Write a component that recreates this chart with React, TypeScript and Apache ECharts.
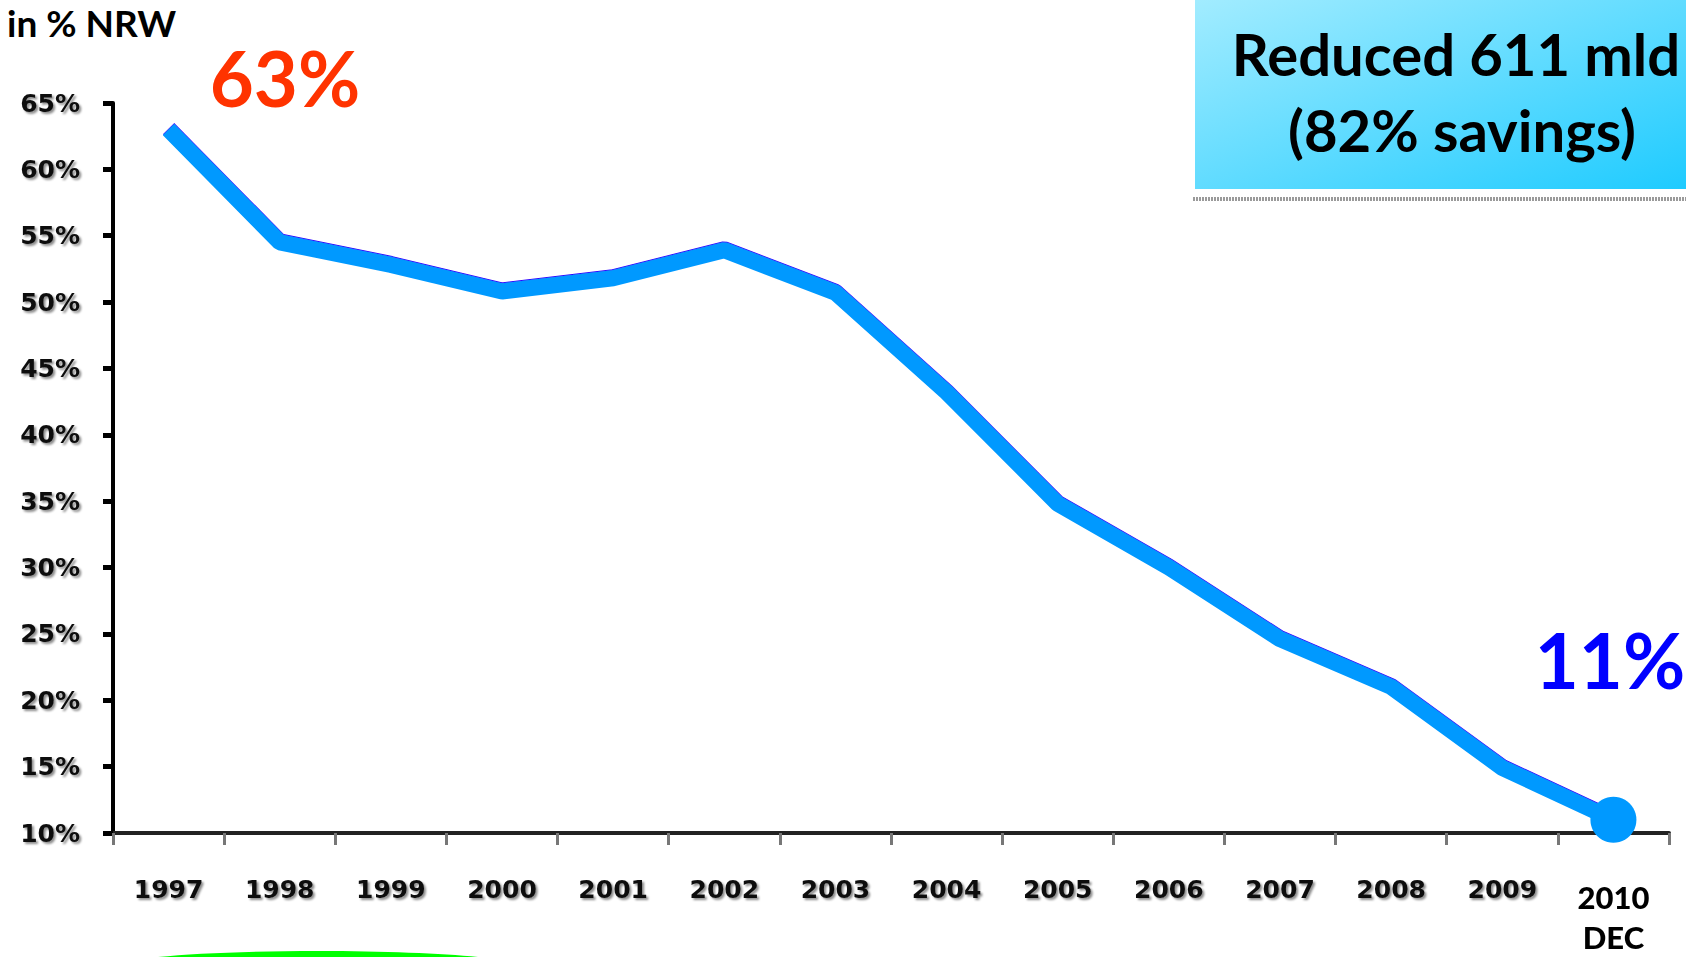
import React, { useEffect, useRef } from "react";
import * as echarts from "echarts";

// Non-revenue water, share of supply (%) per year
const years = [
  "1997", "1998", "1999", "2000", "2001", "2002", "2003",
  "2004", "2005", "2006", "2007", "2008", "2009", "2010",
];
const nrwPercent = [63, 54.5, 52.8, 50.8, 51.8, 53.9, 50.7, 43.2, 34.8, 30, 24.6, 21, 14.9, 11];
const lastYearSuffix = "DEC";

// y axis range (percent)
const yMin = 10;
const yMax = 65;
const yStep = 5;

const yAxisTitle = "in % NRW";
const savingsLines = ["Reduced 611 mld", "(82% savings)"];

const W = 1686;
const H = 957;

const labelShadow = {
  textShadowColor: "rgba(0,0,0,0.45)",
  textShadowBlur: 2,
  textShadowOffsetX: 2,
  textShadowOffsetY: 2,
};

export default function App() {
  const ref = useRef<HTMLDivElement>(null);

  useEffect(() => {
    if (!ref.current) return;
    const chart = echarts.init(ref.current, undefined, { renderer: "svg" });
    const last = nrwPercent.length - 1;

    chart.setOption({
      animation: false,
      backgroundColor: "#ffffff",
      grid: { left: 113, right: 17, top: 103, bottom: 124, containLabel: false },
      xAxis: {
        type: "category",
        data: years,
        boundaryGap: true,
        axisLine: { lineStyle: { color: "#222", width: 4 } },
        axisTick: {
          show: true,
          length: 12,
          interval: 0,
          lineStyle: { color: "#777", width: 3 },
        },
        axisLabel: {
          interval: 0,
          margin: 44,
          color: "#111",
          fontFamily: "DejaVu Sans",
          fontWeight: "bold",
          fontSize: 25,
          ...labelShadow,
          formatter: (value: string, index: number) =>
            index === last ? `{dec|${value}}\n{dec|${lastYearSuffix}}` : value,
          rich: {
            dec: {
              fontFamily: "Lato",
              fontWeight: 900,
              fontSize: 31,
              lineHeight: 40,
              color: "#000",
              textShadowColor: "rgba(0,0,0,0)",
              textShadowBlur: 0,
              textShadowOffsetX: 0,
              textShadowOffsetY: 0,
              align: "center",
            },
          },
        },
        splitLine: { show: false },
      },
      yAxis: {
        type: "value",
        min: yMin,
        max: yMax,
        interval: yStep,
        axisLine: { show: true, lineStyle: { color: "#000", width: 4 } },
        axisTick: { show: true, length: 10, lineStyle: { color: "#000", width: 5 } },
        axisLabel: {
          margin: 33,
          color: "#111",
          fontFamily: "DejaVu Sans",
          fontWeight: "bold",
          fontSize: 25,
          ...labelShadow,
          formatter: "{value}%",
        },
        splitLine: { show: false },
      },
      series: [
        {
          type: "line",
          data: nrwPercent.map((v, i) => (i === last ? { value: v, symbolSize: 46 } : v)),
          symbol: "circle",
          symbolSize: 0,
          showAllSymbol: true,
          clip: false,
          lineStyle: {
            color: "#0099FF",
            width: 16,
            shadowColor: "#2a00ff",
            shadowBlur: 0,
            shadowOffsetX: 0,
            shadowOffsetY: -1,
          },
          itemStyle: { color: "#0099FF" },
          emphasis: { disabled: true },
          z: 3,
        },
      ],
      graphic: [
        {
          type: "text",
          left: 7,
          top: 4,
          style: {
            text: yAxisTitle,
            fontFamily: "Lato",
            fontWeight: "bold",
            fontSize: 37,
            fill: "#000",
          },
        },
        {
          type: "text",
          x: 285,
          y: 77,
          style: {
            text: `${nrwPercent[0]}%`,
            fontFamily: "Lato",
            fontWeight: "bold",
            fontSize: 76,
            fill: "#FF3300",
            textAlign: "center",
            textVerticalAlign: "middle",
          },
        },
        {
          type: "text",
          x: 1610,
          y: 659,
          style: {
            text: `${nrwPercent[last]}%`,
            fontFamily: "Lato",
            fontWeight: "bold",
            fontSize: 76,
            fill: "#0000FF",
            textAlign: "center",
            textVerticalAlign: "middle",
          },
        },
        {
          type: "rect",
          shape: { x: 1195, y: 0, width: W - 1195, height: 189 },
          style: {
            fill: new echarts.graphic.LinearGradient(0, 0, 1, 1, [
              { offset: 0, color: "#A2ECFF" },
              { offset: 1, color: "#1FCBFF" },
            ]),
          },
          z: 1,
        },
        {
          type: "line",
          shape: { x1: 1193, y1: 199, x2: W, y2: 199 },
          style: { stroke: "#9a9a9a", lineWidth: 4, lineDash: [2, 1] },
        },
        {
          type: "text",
          x: 1456,
          y: 53,
          z: 2,
          style: {
            text: savingsLines[0],
            fontFamily: "Lato",
            fontWeight: "bold",
            fontSize: 58,
            fill: "#000",
            textAlign: "center",
            textVerticalAlign: "middle",
          },
        },
        {
          type: "text",
          x: 1462,
          y: 129,
          z: 2,
          style: {
            text: savingsLines[1],
            fontFamily: "Lato",
            fontWeight: "bold",
            fontSize: 58,
            fill: "#000",
            textAlign: "center",
            textVerticalAlign: "middle",
          },
        },
        {
          type: "ellipse",
          shape: { cx: 318, cy: 966, rx: 200, ry: 15 },
          style: { fill: "#00FF00" },
        },
      ],
    });

    return () => chart.dispose();
  }, []);

  return (
    <div
      ref={ref}
      style={{ position: "fixed", left: 0, top: 0, width: W, height: H, background: "#fff" }}
    />
  );
}
